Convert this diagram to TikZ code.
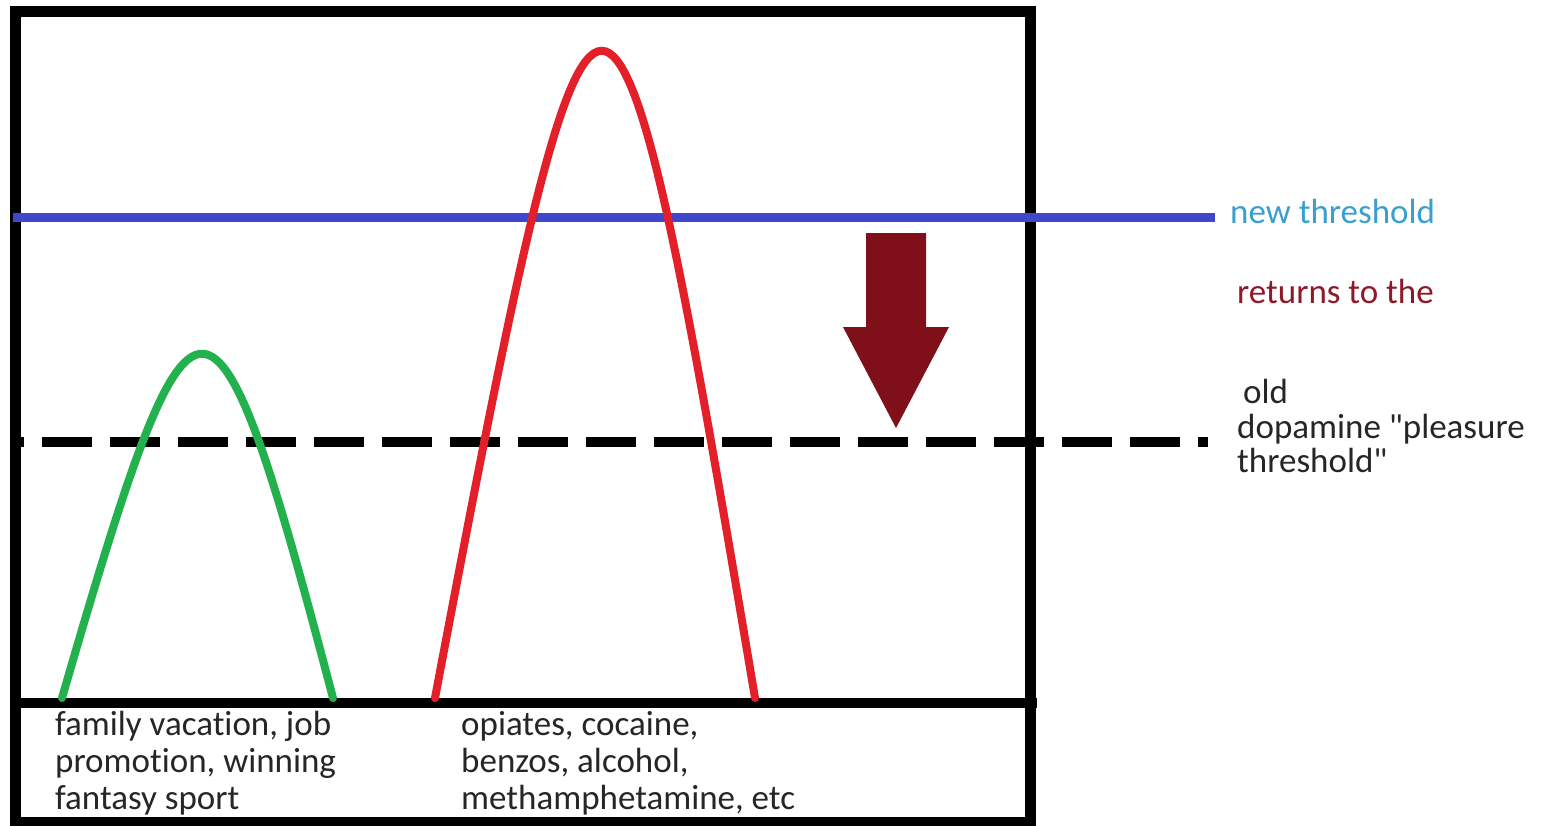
\documentclass[tikz,border=0pt]{standalone}
\usepackage{fontspec}
\setmainfont{Carlito}[Ligatures=NoCommon]
\usetikzlibrary{positioning}
\definecolor{NewBlue}{HTML}{3F48CC}
\definecolor{PeakGreen}{HTML}{22B14C}
\definecolor{PeakRed}{HTML}{E3202A}
\definecolor{ArrowRed}{HTML}{7F0F18}
\definecolor{TextBlue}{HTML}{3A9FCF}
\definecolor{TextRed}{HTML}{8E1A28}
\definecolor{TextDark}{HTML}{262626}

\begin{document}
\begin{tikzpicture}[x=1pt,y=-1pt,every node/.style={inner sep=0pt,anchor=base west,text=TextDark,font=\fontsize{35}{37}\selectfont},frame/.style={draw=black,line width=11pt},newlevel/.style={draw=NewBlue,line width=9pt},oldlevel/.style={draw=black,line width=10pt,dash pattern=on 50pt off 18pt,dash phase=46pt},bump/.style={line width=8pt,line cap=round},stack/.style={align=left}]
\useasboundingbox (0,0) rectangle (1545,825);
\fill[white] (0,0) rectangle (1545,825);
% frame and baseline
\coordinate (TL) at (15,11); \coordinate (BR) at (1030,822);
\coordinate (BaseL) at (15,703); \coordinate (BaseR) at (1037,703);
\draw[frame] (TL) rectangle (BR);
\draw[frame,line width=10pt] (BaseL)--(BaseR);
% thresholds
\coordinate (NewL) at (13,217); \coordinate (NewR) at (1215,217);
\coordinate (OldL) at (20,442); \coordinate (OldR) at (1208,442);
\draw[newlevel] (NewL)--(NewR);
\draw[oldlevel] (OldL)--(OldR);
% the two peaks
\coordinate (G0) at (62,698); \coordinate (G1) at (333,698);
\coordinate (R0) at (435,698); \coordinate (R1) at (755,698);
\draw[bump,draw=PeakGreen] (G0) .. controls (195,239) and (212,239) .. (G1);
\draw[bump,draw=PeakRed] (R0) .. controls (598,-165) and (610,-165) .. (R1);
% drop arrow
\fill[ArrowRed] (866,233)--(926,233)--(926,327)--(949,327)--(896,428)--(843,327)--(866,327)--cycle;
% texts (base = last line)
\node[text=TextBlue] (newtxt) at (1230,223) {new threshold};
\node[text=TextRed] (backtxt) at (1237,303) {returns to the};
\node (oldtxt) at (1243,403) {old};
\node[stack,font=\fontsize{35}{34}\selectfont] (dopatxt) at (1237,472) {dopamine \textquotedbl pleasure\\threshold\textquotedbl};
\node[stack] (goodtxt) at (55,809) {family vacation, job\\promotion, winning\\fantasy sport};
\node[stack] (drugtxt) at (461,809) {opiates, cocaine,\\benzos, alcohol,\\methamphetamine, etc};
\end{tikzpicture}
\end{document}
